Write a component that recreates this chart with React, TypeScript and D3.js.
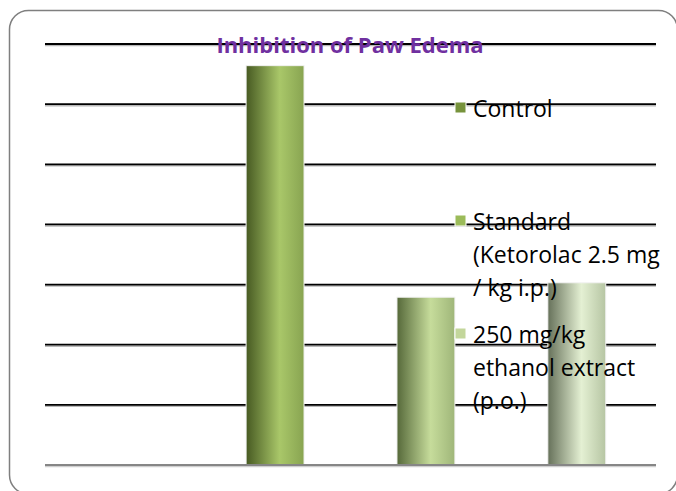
import React from "react";
import * as d3 from "d3";

// chart values
const title = "Inhibition of Paw Edema";
const series = [
  "",
  "Control",
  "Standard (Ketorolac 2.5 mg / kg i.p.)",
  "250 mg/kg ethanol extract (p.o.)",
];
const values = [null, 66.4, 27.9, 30.3];
const legendLines = [
  ["Control"],
  ["Standard", "(Ketorolac 2.5 mg", "/ kg i.p.)"],
  ["250 mg/kg", "ethanol extract", "(p.o.)"],
];
const yTicks = [0, 10, 20, 30, 40, 50, 60, 70];

// swatch colour and gradient stops (dark edge, highlight, right edge)
const swatch = ["#77933c", "#9bbb59", "#c3d69b"];
const grads = [
  ["#475a22", "#a9c769", "#88a451"],
  ["#56693a", "#c6dc9b", "#9fb679"],
  ["#66715a", "#e4f0d3", "#b6c5a3"],
];

const W = 676;
const H = 491;
const left = 45;
const right = 656;
const top = 44;
const bottom = 465;

const App = () => {
  const x = d3
    .scaleBand<string>()
    .domain(series)
    .range([left, right])
    .paddingInner(0.616)
    .paddingOuter(0.333);
  const y = d3.scaleLinear().domain([0, 70]).range([bottom, top]);

  const legendY = d3.scalePoint<number>().domain([0, 1, 2]).range([117, 343]);
  const lineH = 33;

  return (
    <svg
      width={W}
      height={H}
      style={{ position: "absolute", left: 0, top: 0, background: "#fff" }}
      fontFamily="'Open Sans', sans-serif"
    >
      <defs>
        {grads.map((g, i) => (
          <linearGradient key={i} id={"bar" + i} x1="0" x2="1" y1="0" y2="0">
            <stop offset="0" stopColor={g[0]} />
            <stop offset="0.58" stopColor={g[1]} />
            <stop offset="1" stopColor={g[2]} />
          </linearGradient>
        ))}
      </defs>

      <rect
        x={9.5}
        y={10.5}
        width={668}
        height={483.5}
        rx={19}
        fill="none"
        stroke="#7f7f7f"
        strokeWidth={1.5}
      />

      {/* gridlines */}
      {yTicks.map((t) =>
        t === 0 ? null : (
          <g key={t}>
            <line x1={left} x2={right} y1={y(t) + 1.5} y2={y(t) + 1.5} stroke="#b8b8b8" strokeWidth={1.5} />
            <line x1={left} x2={right} y1={y(t)} y2={y(t)} stroke="#000" strokeWidth={1.8} />
          </g>
        )
      )}

      {/* bars */}
      {series.map((s, i) =>
        values[i] == null ? null : (
          <rect
            key={s}
            x={x(s)}
            y={y(values[i] as number)}
            width={x.bandwidth()}
            height={bottom - y(values[i] as number)}
            fill={`url(#bar${i - 1})`}
            stroke="#f2f2f2"
            strokeWidth={1}
          />
        )
      )}

      {/* axis */}
      <line x1={left} x2={right} y1={bottom + 1.5} y2={bottom + 1.5} stroke="#cfcfcf" strokeWidth={1.5} />
      <line x1={left} x2={right} y1={bottom} y2={bottom} stroke="#868686" strokeWidth={2} />

      <text
        x={350}
        y={53}
        textAnchor="middle"
        fontSize={22}
        fontWeight="bold"
        fill="#7030a0"
      >
        {title}
      </text>

      {/* legend */}
      {legendLines.map((lines, i) => {
        const by = legendY(i) as number;
        return (
          <g key={i}>
            <rect x={455} y={by - 15} width={11} height={11} fill={swatch[i]} stroke="#fff" strokeWidth={1} />
            <text x={473} y={by} fontSize={23} fill="#000">
              {lines.map((l, j) => (
                <tspan key={j} x={473} y={by + j * lineH}>
                  {l}
                </tspan>
              ))}
            </text>
          </g>
        );
      })}
    </svg>
  );
};

export default App;
